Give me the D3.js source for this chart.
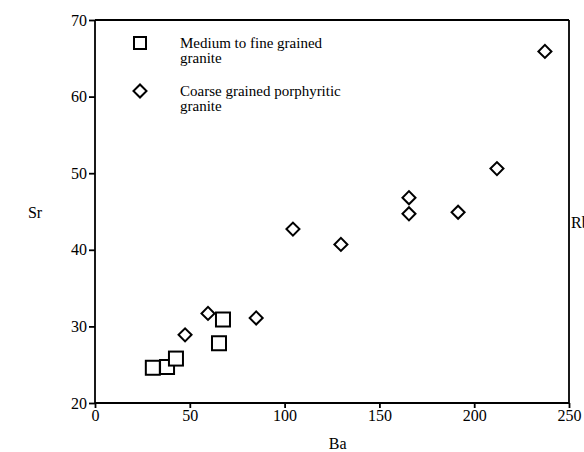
<!DOCTYPE html>
<html>
<head>
<meta charset="utf-8">
<script src="https://cdn.jsdelivr.net/npm/d3@7"></script>
<style>
  body { margin: 0; background: #fff; }
  svg { display: block; font-family: "Liberation Serif", "DejaVu Serif", serif; }
  text { fill: #000; }
</style>
</head>
<body>
<div id="chart"></div>
<script>
// Medium to fine grained granite (squares)
var fineBa = [30.5, 38, 42.7, 65.4, 67.5];
var fineSr = [24.6, 24.7, 25.8, 27.8, 30.9];
// Coarse grained porphyritic granite (diamonds)
var coarseBa = [47.5, 59.6, 85, 104.4, 129.7, 165.6, 165.6, 191.5, 212, 237.3];
var coarseSr = [28.9, 31.7, 31.1, 42.7, 40.7, 46.8, 44.7, 44.9, 50.6, 65.9];
var xTicks = [0, 50, 100, 150, 200, 250];
var yTicks = [20, 30, 40, 50, 60, 70];
var legendLabels = [["Medium to fine grained", "granite"], ["Coarse grained porphyritic", "granite"]];

var width = 584, height = 452;
var svg = d3.select("#chart").append("svg").attr("width", width).attr("height", height);

var x = d3.scaleLinear().domain([0, 250]).range([95, 569]);
var y = d3.scaleLinear().domain([20, 70]).range([403, 20]);

// axes
var xAxis = svg.append("g").attr("transform", "translate(0," + y(20) + ")")
    .call(d3.axisBottom(x).tickValues(xTicks).tickSize(5).tickPadding(2));
var yAxis = svg.append("g").attr("transform", "translate(" + x(0) + ",0)")
    .call(d3.axisLeft(y).tickValues(yTicks).tickSize(6).tickPadding(2));
[xAxis, yAxis].forEach(function (g) {
    g.attr("font-family", "'Liberation Serif', serif").attr("font-size", 16);
    g.selectAll("path, line").attr("stroke", "#000").attr("stroke-width", 1.8);
    g.selectAll("text").attr("fill", "#000");
});
xAxis.select(".domain").attr("d", "M" + x(0) + ",0H" + x(250));
yAxis.select(".domain").attr("d", "M0," + y(20) + "V" + y(70));

// frame top and right
svg.append("line").attr("x1", x(0)).attr("x2", x(250)).attr("y1", y(70)).attr("y2", y(70))
    .attr("stroke", "#000").attr("stroke-width", 1.8);
svg.append("line").attr("x1", x(250)).attr("x2", x(250)).attr("y1", y(70)).attr("y2", y(20))
    .attr("stroke", "#000").attr("stroke-width", 1.8);

// axis titles
svg.append("text").attr("x", 35).attr("y", 218).attr("text-anchor", "middle")
    .style("font-size", "16px").text("Sr");
svg.append("text").attr("x", x(128)).attr("y", 449).attr("text-anchor", "middle")
    .style("font-size", "16px").text("Ba");
// partly cut off at the right edge, as in the original scan
svg.append("text").attr("x", 571).attr("y", 228).style("font-size", "16px").text("Rb");

// points
var fine = fineBa.map(function (d, i) { return { ba: d, sr: fineSr[i] }; });
var coarse = coarseBa.map(function (d, i) { return { ba: d, sr: coarseSr[i] }; });

svg.selectAll("rect.fine").data(fine).enter().append("rect").attr("class", "fine")
    .attr("x", function (d) { return x(d.ba) - 7; })
    .attr("y", function (d) { return y(d.sr) - 7; })
    .attr("width", 14).attr("height", 14)
    .attr("fill", "#fff").attr("stroke", "#000").attr("stroke-width", 2);

var diamond = d3.symbol().type(d3.symbolSquare).size(85);
svg.selectAll("path.coarse").data(coarse).enter().append("path").attr("class", "coarse")
    .attr("d", diamond)
    .attr("transform", function (d) { return "translate(" + x(d.ba) + "," + y(d.sr) + ") rotate(45)"; })
    .attr("fill", "#fff").attr("stroke", "#000").attr("stroke-width", 2);

// legend
var legend = svg.append("g");
legend.append("rect").attr("x", 134).attr("y", 37).attr("width", 12).attr("height", 12)
    .attr("fill", "#fff").attr("stroke", "#000").attr("stroke-width", 2);
legend.append("path").attr("d", diamond)
    .attr("transform", "translate(140,91) rotate(45)")
    .attr("fill", "#fff").attr("stroke", "#000").attr("stroke-width", 2);
var legendY = [48, 96];
legendLabels.forEach(function (lines, i) {
    lines.forEach(function (t, j) {
        legend.append("text").attr("x", 180).attr("y", legendY[i] + j * 15)
            .style("font-size", "15px").text(t);
    });
});
</script>
</body>
</html>
